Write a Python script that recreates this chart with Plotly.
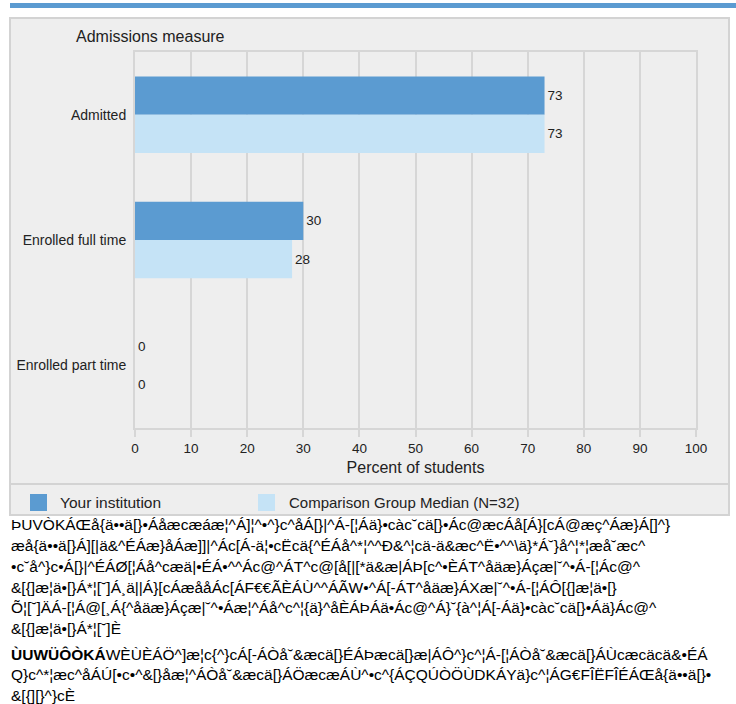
import plotly.graph_objects as go

categories = ["Admitted", "Enrolled full time", "Enrolled part time"]
institution = [73, 30, 0]
comparison = [73, 28, 0]
series_names = ["Your institution", "Comparison Group Median (N=32)"]
x_ticks = [0, 10, 20, 30, 40, 50, 60, 70, 80, 90, 100]

note_lines = [
    "ÞUVÒKÁŒå{ä••ä[}•Áåæcæáæ¦^Á]¦^•^}c^åÁ[}|^Á-[¦Áä}•càc˘cä[}•Ác@æcÁå[Á}[cÁ@æç^Áæ}Á[]^}",
    "æå{ä••ä[}Á][|ä&^ÉÁæ}åÁæ]]|^Ác[Á-ä¦•cËcä{^ÉÁå^*¦^^Ð&^¦cä-ä&æc^Ë•^^\\ä}*Á˘}å^¦*¦æå˘æc^",
    "•c˘å^}c•Á[}|^ÉÁØ[¦Áå^cæä|•ÉÁ•^^Ác@^ÁT^c@[å[|[*ä&æ|ÁÞ[c^•ÈÁT^åäæ}Áçæ|˘^•Á-[¦Ác@^",
    "&[{]æ¦ä•[}Á*¦[˘]Á¸ä||Á}[cÁæååÁc[ÁF€€ÃÈÁÙ^^ÁÃW•^Á[-ÁT^åäæ}ÁXæ|˘^•Á-[¦ÁÔ[{]æ¦ä•[}",
    "Õ¦[˘]ÄÁ-[¦Á@[¸Á{^åäæ}Áçæ|˘^•Áæ¦^Áå^c^¦{ä}^åÈÁÞÁä•Ác@^Á}˘{à^¦Á[-Áä}•càc˘cä[}•Áä}Ác@^",
    "&[{]æ¦ä•[}Á*¦[˘]È",
]
source_lines = [
    "<b>ÙUWÜÔÒKÁ</b>WÈÙÈÁÖ^]æ¦c{^}cÁ[-ÁÒå˘&æcä[}ÉÁÞæcä[}æ|ÁÔ^}c^¦Á-[¦ÁÒå˘&æcä[}ÁÙcæcäcä&•ÉÁ",
    "Q}c^*¦æc^åÁÚ[•c•^&[}åæ¦^ÁÒå˘&æcä[}ÁÖæcæÁÙ^•c^{ÁÇQÚÒÖÙDKÁYä}c^¦ÁG€FÎËFÎÉÁŒå{ä••ä[}•",
    "&[{][}^}cÈ",
]

DARK = "#5b9bd1"
LIGHT = "#c5e3f6"
GRID = "#d6d6d6"
PANEL = "#eeeeee"
TXT = "#222222"
FONT = "Liberation Sans, Arial, sans-serif"

W, H = 736, 704
L, R, T, B = 135, 696, 52, 428


def px(x):
    return (x - L) / (R - L)


def py(y):
    return (B - y) / (B - T)


fig = go.Figure()
for name, vals, col in [(series_names[0], institution, DARK), (series_names[1], comparison, LIGHT)]:
    fig.add_trace(go.Bar(
        y=categories, x=vals, name=name, orientation="h",
        marker=dict(color=col, line=dict(width=0)),
        text=vals, texttemplate="%{x}", textposition="outside",
        textfont=dict(size=13.5, color=TXT, family=FONT),
        cliponaxis=False, showlegend=False,
    ))

shapes = [
    dict(type="rect", xref="paper", yref="paper", x0=px(10), x1=px(740), y0=py(3), y1=py(8),
         fillcolor=DARK, line=dict(width=0), layer="below"),
    dict(type="rect", xref="paper", yref="paper", x0=px(10), x1=px(729), y0=py(18), y1=py(515),
         fillcolor=PANEL, line=dict(color="#d3d3d3", width=2), layer="below"),
    dict(type="line", xref="paper", yref="paper", x0=px(10), x1=px(729), y0=py(484), y1=py(484),
         line=dict(color="#d3d3d3", width=2), layer="below"),
    dict(type="rect", xref="paper", yref="paper", x0=px(30), x1=px(47), y0=py(494), y1=py(511),
         fillcolor=DARK, line=dict(width=0)),
    dict(type="rect", xref="paper", yref="paper", x0=px(258), x1=px(275), y0=py(494), y1=py(511),
         fillcolor=LIGHT, line=dict(width=0)),
]

annotations = [
    dict(text="Admissions measure", xref="paper", yref="paper", x=px(74), y=py(37),
         xanchor="left", yanchor="middle", showarrow=False, font=dict(size=16, color=TXT, family=FONT)),
    dict(text=series_names[0], xref="paper", yref="paper", x=px(58), y=py(502),
         xanchor="left", yanchor="middle", showarrow=False, font=dict(size=15.5, color=TXT, family=FONT)),
    dict(text=series_names[1], xref="paper", yref="paper", x=px(287), y=py(502),
         xanchor="left", yanchor="middle", showarrow=False, font=dict(size=15, color=TXT, family=FONT)),
]

note_y = [524, 545, 566, 587, 607, 628]
src_y = [654, 674, 695]
NOTE_FONT = dict(size=15.5, color="#000", family="Liberation Sans, Arial")
for s, y in zip(note_lines, note_y):
    annotations.append(dict(text=s, xref="paper", yref="paper", x=px(9), y=py(y),
                            xanchor="left", yanchor="middle", showarrow=False, font=NOTE_FONT))
for s, y in zip(source_lines, src_y):
    annotations.append(dict(text=s, xref="paper", yref="paper", x=px(9), y=py(y),
                            xanchor="left", yanchor="middle", showarrow=False, font=NOTE_FONT))

fig.update_layout(
    width=W, height=H,
    margin=dict(l=L, r=W - R, t=T, b=H - B, pad=0),
    paper_bgcolor="white", plot_bgcolor="rgba(0,0,0,0)",
    barmode="group", bargap=0.39, bargroupgap=0,
    font=dict(family=FONT, color=TXT, size=13),
    shapes=shapes, annotations=annotations,
    xaxis=dict(range=[0, 100], tickvals=x_ticks, showgrid=True, gridcolor=GRID, gridwidth=2,
               zeroline=False, showline=True, linecolor=GRID, linewidth=2, mirror=True,
               ticks="outside", ticklen=7, tickwidth=2, tickcolor=GRID,
               tickfont=dict(size=13.5, color=TXT, family=FONT),
               title=dict(text="Percent of students", font=dict(size=16, color=TXT, family=FONT), standoff=7)),
    yaxis=dict(categoryorder="array", categoryarray=categories, autorange="reversed",
               showgrid=False, zeroline=False, showline=True, linecolor=GRID, linewidth=2, mirror=True,
               ticks="outside", ticklen=4, tickcolor="rgba(0,0,0,0)",
               tickfont=dict(size=14, color=TXT, family=FONT)),
)

fig.write_html("out.html", config={"displayModeBar": False},
               post_script="document.body.style.margin='0';document.body.style.padding='0';document.body.style.overflow='hidden';")
